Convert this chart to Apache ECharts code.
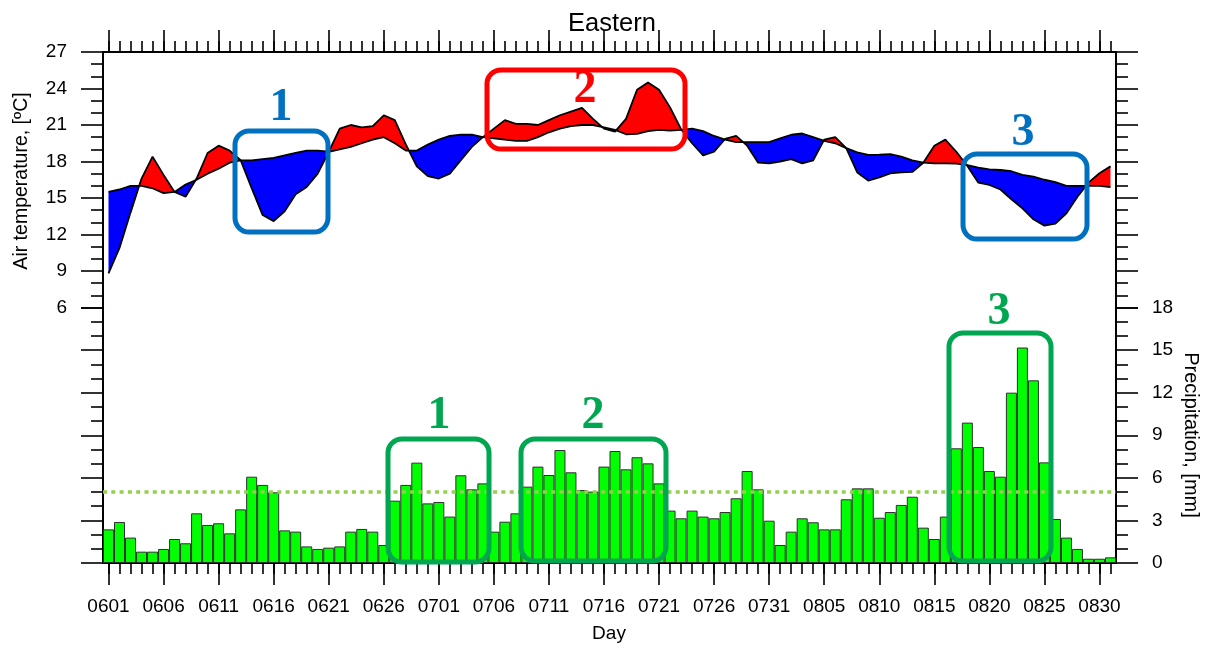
<!DOCTYPE html>
<html>
<head>
<meta charset="utf-8">
<script src="https://cdn.jsdelivr.net/npm/echarts@6/dist/echarts.min.js"></script>
<style>
html,body{margin:0;padding:0;background:#fff;}
#chart{width:1207px;height:647px;}
</style>
</head>
<body>
<div id="chart"></div>
<script>
// ---------- data ----------
const days = [
 '0601','0602','0603','0604','0605','0606','0607','0608','0609','0610',
 '0611','0612','0613','0614','0615','0616','0617','0618','0619','0620',
 '0621','0622','0623','0624','0625','0626','0627','0628','0629','0630',
 '0701','0702','0703','0704','0705','0706','0707','0708','0709','0710',
 '0711','0712','0713','0714','0715','0716','0717','0718','0719','0720',
 '0721','0722','0723','0724','0725','0726','0727','0728','0729','0730','0731',
 '0801','0802','0803','0804','0805','0806','0807','0808','0809','0810',
 '0811','0812','0813','0814','0815','0816','0817','0818','0819','0820',
 '0821','0822','0823','0824','0825','0826','0827','0828','0829','0830','0831'
];
// observed air temperature (°C)
const tempObs = [
 8.8,10.9,13.8,16.6,18.4,16.9,15.5,15.1,16.6,18.7,
 19.3,18.9,18.1,15.8,13.6,13.1,13.9,15.3,15.9,17.0,
 18.8,20.7,21.0,20.8,20.9,21.8,21.4,19.4,17.6,16.8,
 16.6,17.0,18.1,19.2,20.0,20.7,21.4,21.1,21.1,21.0,
 21.4,21.8,22.1,22.4,21.5,20.7,20.45,21.5,23.9,24.5,
 23.9,22.45,20.65,19.5,18.5,18.8,19.85,20.1,19.3,17.9,17.85,
 18.0,18.2,17.85,18.1,19.8,20.0,19.1,17.1,16.43,16.7,
 17.03,17.1,17.14,17.9,19.3,19.8,18.8,17.63,16.26,16.07,
 15.7,14.9,14.15,13.25,12.73,12.9,13.74,15.1,16.26,17.03,17.6
];
// climatological air temperature (°C)
const tempClim = [
 15.5,15.7,16.0,16.0,15.8,15.4,15.5,16.1,16.5,17.0,
 17.4,17.9,18.1,18.1,18.2,18.3,18.5,18.7,18.9,18.9,
 18.8,19.0,19.2,19.5,19.8,20.0,19.5,18.9,18.9,19.4,
 19.8,20.1,20.2,20.2,20.0,19.9,19.8,19.7,19.7,20.0,
 20.4,20.7,20.9,21.0,21.0,20.8,20.6,20.24,20.27,20.5,
 20.6,20.54,20.6,20.7,20.5,20.1,19.8,19.6,19.6,19.6,19.6,
 19.9,20.2,20.3,20.0,19.7,19.5,19.1,18.75,18.54,18.56,
 18.6,18.4,18.1,17.9,17.85,17.85,17.83,17.7,17.5,17.36,
 17.3,17.2,16.9,16.76,16.5,16.3,16.0,16.0,16.0,16.0,15.9
];
// daily precipitation (mm)
const precip = [
 2.37,2.89,1.79,0.8,0.8,0.99,1.69,1.39,3.5,2.68,
 2.8,2.09,3.78,6.08,5.5,4.98,2.3,2.21,1.17,0.99,
 1.08,1.17,2.21,2.4,2.21,1.27,4.39,5.5,7.07,4.2,
 4.3,3.27,6.18,5.19,5.61,2.21,2.91,3.5,5.38,6.79,
 6.2,7.96,6.39,5.14,5.03,6.79,7.89,6.6,7.45,7.02,
 5.61,3.69,3.15,3.69,3.27,3.15,3.59,4.56,6.48,5.19,2.98,
 1.27,2.21,3.15,2.87,2.37,2.37,4.49,5.26,5.26,3.19,
 3.59,4.09,4.67,2.49,1.69,3.27,8.08,9.89,8.17,6.48,
 6.08,12.0,15.18,12.87,7.09,3.1,1.79,0.99,0.3,0.3,0.4
];
const precipRef = 5;            // dotted reference line (mm)
const tempTicks = {min: 6, max: 27, step: 3};
const precipTicks = {min: 0, max: 18, step: 3};
const tempRange = {min: -15, max: 27};
const precipRange = {min: 0, max: 36};
const titleText = 'Eastern';
const yNameLeft = 'Air temperature, [ºC]';
const yNameRight = 'Precipitation, [mm]';
const xName = 'Day';
const boxLabels = ['1', '2', '3', '1', '2', '3'];

// ---------- chart ----------
const FONT = '"Liberation Sans", Arial, Helvetica, sans-serif';
const chart = echarts.init(document.getElementById('chart'), null, {renderer: 'canvas'});

const majorEvery = 5;
const isMajor = (idx) => idx % majorEvery === 0;

const L = 103, R = 91, TOP = 52, H = 511;
const half = H * (tempTicks.max - tempTicks.min) / (tempRange.max - tempRange.min);

// split the band between observed and climatological curves into runs of equal sign
const runs = [];
(function () {
  let cur = null;
  for (let i = 0; i < days.length; i++) {
    const d = tempObs[i] - tempClim[i];
    const s = d >= 0 ? 1 : -1;
    if (!cur) {
      cur = {s: s, start: null, idx: [i], end: null};
    } else if (s === cur.s) {
      cur.idx.push(i);
    } else {
      const dp = tempObs[i - 1] - tempClim[i - 1];
      const t = dp / (dp - d);
      cur.end = {i: i - 1, t: t};
      runs.push(cur);
      cur = {s: s, start: {i: i - 1, t: t}, idx: [i], end: null};
    }
  }
  runs.push(cur);
})();
const runData = runs.map((r, k) => [r.idx[0], k]);

function renderRun(params, api) {
  const run = runs[api.value(1)];
  const cross = (c) => {
    const a = api.coord([c.i, tempObs[c.i]]);
    const b = api.coord([c.i + 1, tempObs[c.i + 1]]);
    return [a[0] + c.t * (b[0] - a[0]), a[1] + c.t * (b[1] - a[1])];
  };
  const pts = [];
  if (run.start) pts.push(cross(run.start));
  run.idx.forEach((i) => pts.push(api.coord([i, tempObs[i]])));
  if (run.end) pts.push(cross(run.end));
  for (let k = run.idx.length - 1; k >= 0; k--) {
    const i = run.idx[k];
    pts.push(api.coord([i, tempClim[i]]));
  }
  const col = run.s > 0 ? '#ff0000' : '#0000ff';
  return {type: 'polygon', shape: {points: pts}, style: {fill: col, stroke: null}};
}

const axisLineStyle = {color: '#000', width: 2};
const tickStyle = {color: '#000', width: 1.6};

const tickYAxis = (grid, pos, rng, showLabel) => ({
  type: 'value', gridIndex: grid, position: pos,
  min: rng.min, max: rng.max, interval: rng.step,
  axisLine: {show: true, onZero: false, lineStyle: axisLineStyle},
  axisTick: {show: true, inside: false, length: 22, lineStyle: tickStyle},
  minorTick: {show: true, splitNumber: rng.step, length: 12, lineStyle: tickStyle},
  splitLine: {show: false}, minorSplitLine: {show: false},
  axisLabel: {show: showLabel, margin: 36, fontSize: 19, color: '#000', fontFamily: FONT}
});

const option = {
  animation: false,
  backgroundColor: '#fff',
  title: {
    text: titleText, left: 607, top: 6, textAlign: 'center',
    textStyle: {fontSize: 25.5, fontWeight: 'normal', color: '#000', fontFamily: FONT}
  },
  grid: [
    {left: L, right: R, top: TOP, height: H},
    {left: L, right: R, top: TOP, height: half},
    {left: L, right: R, top: TOP + H - half, height: half}
  ],
  xAxis: [
    {type: 'category', gridIndex: 0, position: 'bottom', data: days,
     axisLine: {show: true, onZero: false, lineStyle: axisLineStyle},
     axisTick: {show: true, alignWithLabel: true, interval: (i) => isMajor(i), length: 22, lineStyle: tickStyle},
     axisLabel: {show: true, interval: (i) => isMajor(i), margin: 34, fontSize: 19, color: '#000', fontFamily: FONT},
     splitLine: {show: false}},
    {type: 'category', gridIndex: 0, position: 'bottom', data: days,
     axisLine: {show: false, onZero: false},
     axisTick: {show: true, alignWithLabel: true, interval: 0, length: 11, lineStyle: tickStyle},
     axisLabel: {show: false}, splitLine: {show: false}},
    {type: 'category', gridIndex: 0, position: 'top', data: days,
     axisLine: {show: true, onZero: false, lineStyle: axisLineStyle},
     axisTick: {show: true, alignWithLabel: true, interval: (i) => isMajor(i), length: 22, lineStyle: tickStyle},
     axisLabel: {show: false}, splitLine: {show: false}},
    {type: 'category', gridIndex: 0, position: 'top', data: days,
     axisLine: {show: false, onZero: false},
     axisTick: {show: true, alignWithLabel: true, interval: 0, length: 11, lineStyle: tickStyle},
     axisLabel: {show: false}, splitLine: {show: false}},
    {type: 'category', gridIndex: 1, data: days, show: false},
    {type: 'category', gridIndex: 2, data: days, show: false}
  ],
  yAxis: [
    {type: 'value', gridIndex: 0, min: tempRange.min, max: tempRange.max, show: false, splitLine: {show: false}},
    {type: 'value', gridIndex: 0, min: precipRange.min, max: precipRange.max, show: false, splitLine: {show: false}},
    tickYAxis(1, 'left', tempTicks, true),
    tickYAxis(1, 'right', tempTicks, false),
    tickYAxis(2, 'left', precipTicks, false),
    tickYAxis(2, 'right', precipTicks, true)
  ],
  series: [
    {type: 'bar', xAxisIndex: 0, yAxisIndex: 1, data: precip,
     barCategoryGap: '0%', z: 2,
     itemStyle: {color: '#00ff00', borderColor: '#303030', borderWidth: 1},
     markLine: {silent: true, symbol: ['none', 'none'], label: {show: false},
       lineStyle: {color: '#92d050', width: 3.5, type: [4, 4.3]},
       data: [{yAxis: precipRef}]}},
    {type: 'custom', xAxisIndex: 0, yAxisIndex: 0, data: runData, z: 3,
     dimensions: ['x', 'run'], encode: {x: 0, y: 1},
     renderItem: renderRun},
    {type: 'line', xAxisIndex: 0, yAxisIndex: 0, data: tempClim, z: 4,
     symbol: 'none', lineStyle: {color: '#000', width: 1.8}},
    {type: 'line', xAxisIndex: 0, yAxisIndex: 0, data: tempObs, z: 4,
     symbol: 'none', lineStyle: {color: '#000', width: 1.8}}
  ],
  graphic: []
};

chart.setOption(option);

// ---------- annotations ----------
const BLUE_BOX = '#0070c0', RED_BOX = '#ff0000', GREEN_BOX = '#00a650';
const boxes = [
  {x: 235, y: 131, w: 93, h: 101, c: BLUE_BOX, lx: 281, ly: 108},
  {x: 487, y: 70, w: 198, h: 79, c: RED_BOX, lx: 585, ly: 90},
  {x: 963, y: 154, w: 124, h: 85, c: BLUE_BOX, lx: 1023, ly: 133},
  {x: 388, y: 439, w: 101, h: 123, c: GREEN_BOX, lx: 439, ly: 416},
  {x: 521, y: 439, w: 145, h: 122, c: GREEN_BOX, lx: 593, ly: 416},
  {x: 949, y: 333, w: 102, h: 228, c: GREEN_BOX, lx: 999, ly: 312}
];
const gfx = [];
boxes.forEach((b, k) => {
  gfx.push({type: 'rect', z: 100, shape: {x: b.x, y: b.y, width: b.w, height: b.h, r: 14},
    style: {fill: 'none', stroke: b.c, lineWidth: 5}});
  gfx.push({type: 'text', z: 101, x: b.lx, y: b.ly,
    style: {text: boxLabels[k], fill: b.c, font: 'bold 46px "Liberation Serif", "DejaVu Serif", serif',
      align: 'center', verticalAlign: 'middle', textAlign: 'center', textVerticalAlign: 'middle'}});
});
gfx.push({type: 'text', z: 101, x: 22, y: 181, rotation: Math.PI / 2,
  style: {text: yNameLeft, fill: '#000', font: '19.5px ' + FONT, align: 'center', verticalAlign: 'middle',
    textAlign: 'center', textVerticalAlign: 'middle'}});
gfx.push({type: 'text', z: 101, x: 1191, y: 435, rotation: -Math.PI / 2,
  style: {text: yNameRight, fill: '#000', font: '20px ' + FONT, align: 'center', verticalAlign: 'middle',
    textAlign: 'center', textVerticalAlign: 'middle'}});
gfx.push({type: 'text', z: 101, x: 609, y: 634,
  style: {text: xName, fill: '#000', font: '19px ' + FONT, align: 'center', verticalAlign: 'middle',
    textAlign: 'center', textVerticalAlign: 'middle'}});
chart.setOption({graphic: gfx});
</script>
</body>
</html>
